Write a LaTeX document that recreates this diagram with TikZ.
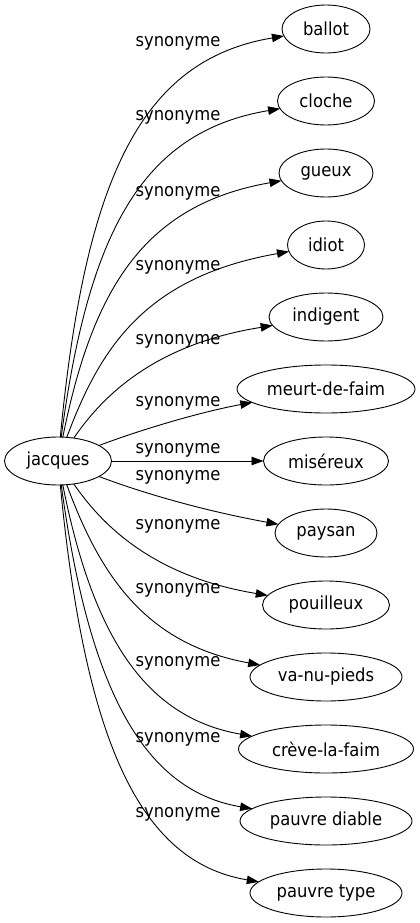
\documentclass[tikz,border=0pt]{standalone}
\usepackage{fontspec}
\setmainfont{DejaVu Sans}[FakeStretch=0.91]
\usepackage{tikz}
\usetikzlibrary{positioning}
\usetikzlibrary{shapes.geometric, arrows.meta}

\begin{document}
\begin{tikzpicture}
[
	x=1pt, y=-1pt,
	node distance = 24pt,
	every node/.style={font=\fontsize{18pt}{21pt}\selectfont},
	word/.style={draw, ellipse, inner sep=0pt, outer sep=0pt, minimum height=48pt, line width=0.9pt},
	syn/.style={-{Triangle[length=12pt, width=8.5pt]}, line width=0.9pt},
	synT/.style={inner sep=0pt}
  ]
	\useasboundingbox (0,0) rectangle (420,923);

	\node[word, minimum width=107pt] (jac) at (58,461) {jacques};

	\node[word, minimum width=88pt] (ballot) at (326,29) {ballot};
	\node[word, minimum width=97pt, below=of ballot] (cloche) {cloche};
	\node[word, minimum width=94pt, below=of cloche] (gueux) {gueux};
	\node[word, minimum width=77pt, below=of gueux] (idiot) {idiot};
	\node[word, minimum width=114pt, below=of idiot] (indigent) {indigent};
	\node[word, minimum width=178pt, below=of indigent] (meurt) {meurt-de-faim};
	\node[word, minimum width=125pt, below=of meurt] (mis) {miséreux};
	\node[word, minimum width=102pt, below=of mis] (pay) {paysan};
	\node[word, minimum width=127pt, below=of pay] (pou) {pouilleux};
	\node[word, minimum width=152pt, below=of pou] (va) {va-nu-pieds};
	\node[word, minimum width=175pt, below=of va] (creve) {crève-la-faim};
	\node[word, minimum width=172pt, below=of creve] (diable) {pauvre diable};
	\node[word, minimum width=152pt, below=of diable] (type) {pauvre type};

	\node[synT] (s1) at (178,43) {synonyme};
	\node[synT] (s2) at (178,117) {synonyme};
	\node[synT] (s3) at (178,193) {synonyme};
	\node[synT] (s4) at (178,267) {synonyme};
	\node[synT] (s5) at (178,341) {synonyme};
	\node[synT] (s6) at (178,403) {synonyme};
	\node[synT] (s7) at (178,450) {synonyme};
	\node[synT] (s8) at (178,477) {synonyme};
	\node[synT] (s9) at (178,526) {synonyme};
	\node[synT] (s10) at (178,590) {synonyme};
	\node[synT] (s11) at (178,663) {synonyme};
	\node[synT] (s12) at (178,739) {synonyme};
	\node[synT] (s13) at (178,814) {synonyme};

	\draw[syn] (jac) .. controls (85,180) and (140,60) .. (ballot);
	\draw[syn] (jac) .. controls (88,236) and (140,132) .. (cloche);
	\draw[syn] (jac) .. controls (92,292) and (142,205) .. (gueux);
	\draw[syn] (jac) .. controls (100,348) and (145,277) .. (idiot);
	\draw[syn] (jac) .. controls (100,400) and (150,345) .. (indigent);
	\draw[syn] (jac) .. controls (140,430) and (200,412) .. (meurt);
	\draw[syn] (jac) -- (mis);
	\draw[syn] (jac) .. controls (140,492) and (200,510) .. (pay);
	\draw[syn] (jac) .. controls (100,522) and (150,576) .. (pou);
	\draw[syn] (jac) .. controls (100,575) and (145,644) .. (va);
	\draw[syn] (jac) .. controls (92,631) and (142,717) .. (creve);
	\draw[syn] (jac) .. controls (88,682) and (140,790) .. (diable);
	\draw[syn] (jac) .. controls (85,742) and (140,862) .. (type);
\end{tikzpicture}
\end{document}
